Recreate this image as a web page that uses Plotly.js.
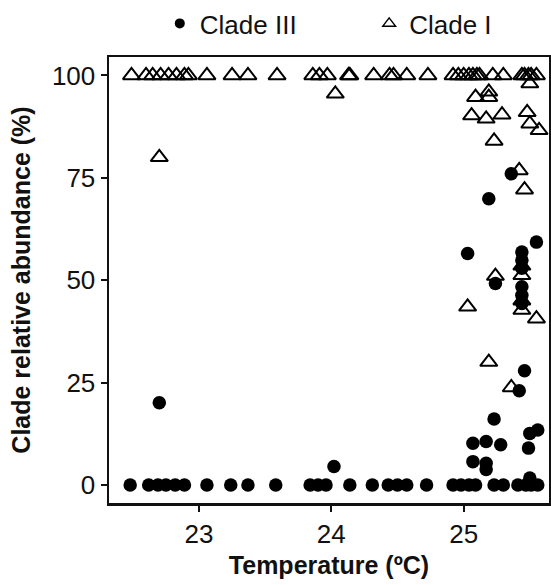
<!DOCTYPE html>
<html>
<head>
<meta charset="utf-8">
<script src="https://cdn.plot.ly/plotly-3.0.1.min.js"></script>
<style>html,body{margin:0;padding:0;background:#fff;}#chart{width:551px;height:585px;}</style>
</head>
<body>
<div id="chart"></div>
<script>
// Clade III (filled circles): temperature (ºC) and relative abundance (%)
var cladeIII_temp = [
  22.48, 22.62, 22.69, 22.75, 22.82, 22.89, 23.06, 23.24, 23.37, 23.58,
  23.84, 23.90, 23.96, 24.14, 24.31, 24.43, 24.50, 24.57, 24.72, 24.92,
  24.98, 25.04, 25.09, 25.23, 25.30, 25.41, 25.47, 25.51, 25.56,
  22.70, 24.02, 25.07, 25.17, 25.17, 25.07, 25.17, 25.28, 25.49, 25.50,
  25.56, 25.50, 25.46, 25.42, 25.23, 25.36, 25.19, 25.55, 25.03, 25.24,
  25.44, 25.44, 25.44, 25.44, 25.44, 25.44
];
var cladeIII_abund = [
  0, 0, 0, 0, 0, 0, 0, 0, 0, 0,
  0, 0, 0, 0, 0, 0, 0, 0, 0, 0,
  0, 0, 0, 0, 0, 0, 0, 0, 0,
  20.1, 4.5, 5.7, 5.3, 3.8, 10.2, 10.6, 9.8, 9.0, 12.6,
  13.4, 1.7, 27.9, 23.0, 16.1, 76.0, 69.9, 59.3, 56.5, 49.2,
  56.9, 54.9, 52.9, 48.4, 46.3, 44.3
];

// Clade I (open triangles): temperature (ºC) and relative abundance (%)
var cladeI_temp = [
  22.49, 22.60, 22.65, 22.71, 22.77, 22.83, 22.89, 22.92, 23.06, 23.25,
  23.37, 23.59, 23.86, 23.91, 23.97, 24.13, 24.14, 24.32, 24.44, 24.47,
  24.57, 24.73, 24.92, 24.96, 25.00, 25.04, 25.07, 25.10, 25.12, 25.22,
  25.30, 25.44, 25.46, 25.49, 25.51, 25.55,
  22.70, 24.03, 25.09, 25.19, 25.19, 25.06, 25.17, 25.29, 25.23, 25.48,
  25.50, 25.57, 25.42, 25.46, 25.24, 25.44, 25.44, 25.44, 25.44, 25.03,
  25.55, 25.19, 25.36, 25.50
];
var cladeI_abund = [
  100, 100, 100, 100, 100, 100, 100, 100, 100, 100,
  100, 100, 100, 100, 100, 100, 100, 100, 100, 100,
  100, 100, 100, 100, 100, 100, 100, 100, 100, 100,
  100, 100, 100, 100, 100, 100,
  80, 95.5, 94.7, 96, 94.7, 90.2, 89.4, 90.4, 84, 91,
  88.2, 86.6, 76.8, 72.1, 51, 51.2, 53.5, 45, 42.7, 43.5,
  40.6, 30, 23.8, 98
];

var xTicks = [23, 24, 25];
var yTicks = [0, 25, 50, 75, 100];
var seriesNames = ['Clade III', 'Clade I'];

var FONT = '"Liberation Sans", Arial, Helvetica, sans-serif';

var traces = [
  {
    x: cladeI_temp, y: cladeI_abund, type: 'scatter', mode: 'markers',
    name: seriesNames[1], showlegend: false, cliponaxis: false,
    marker: {symbol: 'triangle-up-open', size: 15, color: '#000', line: {width: 2, color: '#000'}}
  },
  {
    x: cladeIII_temp, y: cladeIII_abund, type: 'scatter', mode: 'markers',
    name: seriesNames[0], showlegend: false, cliponaxis: false,
    marker: {symbol: 'circle', size: 13.5, color: '#000', line: {width: 0}}
  },
  // legend-only entries (smaller symbols, as in the reference legend)
  {
    x: [null], y: [null], type: 'scatter', mode: 'markers', name: seriesNames[0],
    legend: 'legend',
    marker: {symbol: 'circle', size: 10, color: '#000'}
  },
  {
    x: [null], y: [null], type: 'scatter', mode: 'markers', name: seriesNames[1],
    legend: 'legend2',
    marker: {symbol: 'triangle-up-open', size: 11, color: '#000', line: {width: 1.5, color: '#000'}}
  }
];

var axisCommon = {
  showline: true, linewidth: 2.5, linecolor: '#111', mirror: true,
  ticks: 'outside', ticklen: 6, tickwidth: 2, tickcolor: '#111',
  showgrid: false, zeroline: false,
  tickfont: {family: FONT, size: 26, color: '#111'}
};

var legendCommon = {
  orientation: 'h', xref: 'container', yref: 'container',
  xanchor: 'left', yanchor: 'top', y: 1.0,
  font: {family: FONT, size: 26, color: '#111'},
  bgcolor: 'rgba(0,0,0,0)', borderwidth: 0
};

var layout = {
  width: 551, height: 585,
  margin: {l: 109, r: 2, t: 57, b: 82, pad: 0},
  paper_bgcolor: '#fff', plot_bgcolor: '#fff',
  font: {family: FONT, color: '#111'},
  showlegend: true,
  legend: Object.assign({}, legendCommon, {x: 0.29}),
  legend2: Object.assign({}, legendCommon, {x: 0.67}),
  xaxis: Object.assign({}, axisCommon, {
    range: [22.32, 25.645], tickmode: 'array', tickvals: xTicks,
    ticktext: xTicks.map(String),
    title: {text: '<b>Temperature (ºC)</b>', font: {family: FONT, size: 25, color: '#111'}, standoff: 9}
  }),
  yaxis: Object.assign({}, axisCommon, {
    range: [-4.4, 104.5], tickmode: 'array', tickvals: yTicks,
    ticktext: yTicks.map(String),
    title: {text: '<b>Clade relative abundance (%)</b>', font: {family: FONT, size: 25, color: '#111'}, standoff: 14}
  })
};

Plotly.newPlot('chart', traces, layout, {displayModeBar: false, staticPlot: true});
</script>
</body>
</html>
